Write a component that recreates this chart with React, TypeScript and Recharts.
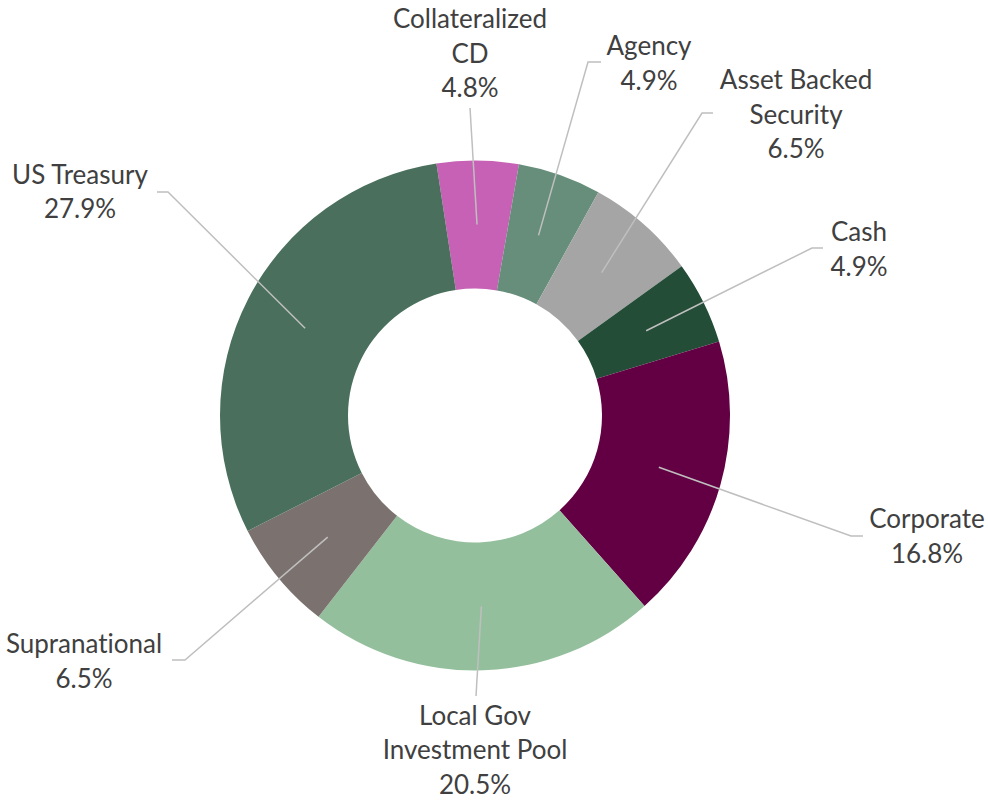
import { PieChart, Pie, Cell } from "recharts";

const categories = [
  "Collateralized CD",
  "Agency",
  "Asset Backed Security",
  "Cash",
  "Corporate",
  "Local Gov Investment Pool",
  "Supranational",
  "US Treasury",
];
const shares = [4.8, 4.9, 6.5, 4.9, 16.8, 20.5, 6.5, 27.9];
const colors = ["#C761B5", "#678E7B", "#A5A5A5", "#244D38", "#630043", "#94BF9C", "#7B726F", "#4A705D"];

const data = categories.map((name, i) => ({ name, value: shares[i] }));

// where each label was dragged to, relative to the pie centre
type LabelSpot = { lines: string[]; bend: [number, number]; tip: [number, number]; text: [number, number] };
const labelSpots: Record<string, LabelSpot> = {
  "Collateralized CD": { lines: ["Collateralized", "CD"], bend: [-5, -307.5], tip: [-5, -307.5], text: [-5, -361] },
  Agency: { lines: ["Agency"], bend: [113, -353.5], tip: [126, -353.5], text: [174, -351] },
  "Asset Backed Security": { lines: ["Asset Backed", "Security"], bend: [227, -302.5], tip: [238, -302.5], text: [321, -300] },
  Cash: { lines: ["Cash"], bend: [337, -167.5], tip: [348, -167.5], text: [384, -165] },
  Corporate: { lines: ["Corporate"], bend: [376, 120.5], tip: [388, 120.5], text: [452, 122] },
  "Local Gov Investment Pool": { lines: ["Local Gov", "Investment Pool"], bend: [1, 280.5], tip: [1, 280.5], text: [0, 335.5] },
  Supranational: { lines: ["Supranational"], bend: [-290, 244.5], tip: [-303, 244.5], text: [-391, 247] },
  "US Treasury": { lines: ["US Treasury"], bend: [-307, -223.5], tip: [-318, -223.5], text: [-395, -222.5] },
};

const RAD = Math.PI / 180;
const LINE_H = 34.5;

function renderLabel(props: any) {
  const { cx, cy, midAngle, innerRadius, outerRadius, name, value } = props;
  const spot = labelSpots[name];
  if (!spot) return null;
  const r = (innerRadius + outerRadius) / 2;
  const sx = cx + r * Math.cos(-midAngle * RAD);
  const sy = cy + r * Math.sin(-midAngle * RAD);
  const lines = [...spot.lines, `${Number(value).toFixed(1)}%`];
  const n = lines.length;
  return (
    <g>
      <polyline
        points={`${sx},${sy} ${cx + spot.bend[0]},${cy + spot.bend[1]} ${cx + spot.tip[0]},${cy + spot.tip[1]}`}
        fill="none"
        stroke="#BFBFBF"
        strokeWidth={1.5}
      />
      <text
        x={cx + spot.text[0]}
        textAnchor="middle"
        fill="#404040"
        fontSize={26}
        fontFamily="Lato, 'Open Sans', sans-serif"
        style={{ fontVariantLigatures: "none" }}
      >
        {lines.map((t, i) => (
          <tspan key={i} x={cx + spot.text[0]} y={cy + spot.text[1] + (i - (n - 1) / 2) * LINE_H + 8}>
            {t}
          </tspan>
        ))}
      </text>
    </g>
  );
}

export default function App() {
  return (
    <div style={{ position: "absolute", left: 0, top: 0, width: 988, height: 800, background: "#fff" }}>
      <PieChart width={988} height={800} margin={{ top: 0, right: 0, bottom: 0, left: 0 }}>
        <Pie
          data={data}
          dataKey="value"
          nameKey="name"
          cx={475}
          cy={415.5}
          innerRadius={127}
          outerRadius={255}
          startAngle={98.7}
          endAngle={-261.3}
          stroke="none"
          label={renderLabel}
          labelLine={false}
          isAnimationActive={false}
        >
          {data.map((d, i) => (
            <Cell key={d.name} fill={colors[i]} />
          ))}
        </Pie>
      </PieChart>
    </div>
  );
}
